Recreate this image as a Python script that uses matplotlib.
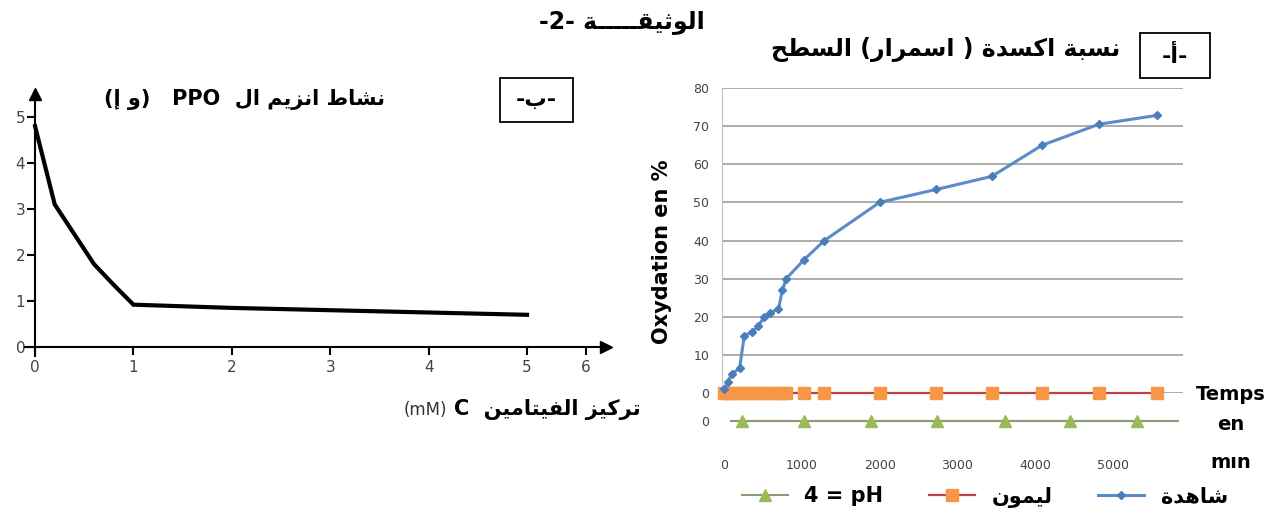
import re
import matplotlib
matplotlib.use("Agg")
from matplotlib import pyplot as plt
from matplotlib.patches import Rectangle

plt.rcParams["font.family"] = ["DejaVu Sans"]

# --- data ---
# left chart : PPO activity vs vitamin C concentration
conc_mM = [0, 0.2, 0.4, 0.6, 0.8, 1, 2, 3, 4, 5]
ppo_activity = [4.8, 3.1, 2.45, 1.8, 1.35, 0.92, 0.85, 0.8, 0.75, 0.7]
left_xticks = [0, 1, 2, 3, 4, 5, 5.6]
left_xlabels = ["0", "1", "2", "3", "4", "5", "6"]

# right chart : oxidation (%) vs time (min)
temoin_t = [0, 50, 100, 200, 260, 360, 440, 515, 590, 700, 750, 800,
            1030, 1290, 2000, 2730, 3440, 4090, 4820, 5560]
temoin_ox = [1, 3, 5, 6.5, 15, 16, 17.5, 20, 21, 22, 27, 30,
             35, 40, 50, 53.4, 56.8, 65, 70.5, 72.8]
citron_t = temoin_t
citron_ox = [0] * len(citron_t)
ph4_t = [232, 1031, 1892, 2742, 3608, 4448, 5309]
ph4_ox = [0] * len(ph4_t)

# --- minimal arabic shaping (presentation forms) + visual order ---
FORMS = {
    "\u0627": (0xFE8D, 2), "\u0623": (0xFE83, 2), "\u0625": (0xFE87, 2),
    "\u0628": (0xFE8F, 4), "\u0629": (0xFE93, 2), "\u062A": (0xFE95, 4),
    "\u062B": (0xFE99, 4), "\u062D": (0xFEA1, 4), "\u062F": (0xFEA9, 2),
    "\u0631": (0xFEAD, 2), "\u0632": (0xFEAF, 2), "\u0633": (0xFEB1, 4),
    "\u0634": (0xFEB5, 4), "\u0637": (0xFEC1, 4), "\u0641": (0xFED1, 4),
    "\u0642": (0xFED5, 4), "\u0643": (0xFED9, 4), "\u0644": (0xFEDD, 4),
    "\u0645": (0xFEE1, 4), "\u0646": (0xFEE5, 4), "\u0647": (0xFEE9, 4),
    "\u0648": (0xFEED, 2), "\u064A": (0xFEF1, 4),
}
TATWEEL = "\u0640"


def joins_next(c):
    return c == TATWEEL or (c in FORMS and FORMS[c][1] == 4)


def shape(s):
    out = []
    for i, c in enumerate(s):
        if c not in FORMS:
            out.append(c)
            continue
        base, n = FORMS[c]
        prev = s[i - 1] if i > 0 else ""
        nxt = s[i + 1] if i + 1 < len(s) else ""
        jp = joins_next(prev)
        jn = n == 4 and (nxt == TATWEEL or nxt in FORMS)
        if jp and jn:
            code = base + 3
        elif jp:
            code = base + 1
        elif jn:
            code = base + 2
        else:
            code = base
        out.append(chr(code))
    return "".join(out)


def ar(s):
    t = shape(s)[::-1]
    t = t.translate(str.maketrans("()", ")("))
    return re.sub(r"[A-Za-z0-9]+", lambda m: m.group(0)[::-1], t)


def fx(x):
    return x / 1280


def fy(y):
    return 1 - y / 524


fig = plt.figure(figsize=(12.8, 5.24), dpi=100)

# ---------------- left chart ----------------
axl = fig.add_axes([fx(25.2), fy(356.2), (605.7 - 25.2) / 1280, (356.2 - 94) / 524])
axl.set_xlim(-0.1, 5.8)
axl.set_ylim(-0.2, 5.5)
axl.plot(conc_mM, ppo_activity, color="black", lw=3, solid_joinstyle="miter")
for s in ["top", "right"]:
    axl.spines[s].set_visible(False)
axl.spines["left"].set_position(("data", 0))
axl.spines["bottom"].set_position(("data", 0))
axl.spines["left"].set_linewidth(1.5)
axl.spines["bottom"].set_linewidth(1.5)
axl.plot(0, 1, "^k", ms=9, transform=axl.get_xaxis_transform(), clip_on=False)
axl.plot(1, 0, ">k", ms=9, transform=axl.get_yaxis_transform(), clip_on=False)
axl.set_xticks(left_xticks)
axl.set_xticklabels(left_xlabels)
axl.set_yticks([0, 1, 2, 3, 4, 5])
axl.tick_params(axis="both", direction="out", length=6, width=1.5,
                labelsize=11, labelcolor="#444444")
axl.tick_params(axis="y", pad=1)

fig.text(fx(385), fy(100), "(إ و)   PPO  " + ar("نشاط انزيم ال"),
         ha="right", va="center", fontsize=15, fontweight="bold")
fig.add_artist(Rectangle((fx(500), fy(122)), 73 / 1280, 44 / 524,
                         transform=fig.transFigure, fill=False, lw=1.3, ec="black"))
fig.text(fx(536), fy(100), ar("-ب-"), ha="center", va="center",
         fontsize=16, fontweight="bold")
fig.text(fx(640), fy(410), "C  " + ar("تركيز الفيتامين"),
         ha="right", va="center", fontsize=15, fontweight="bold")
fig.text(fx(447), fy(410), "(mM)", ha="right", va="center", fontsize=12, color="#333333")

# ---------------- right chart ----------------
axr = fig.add_axes([fx(721.7), fy(393), (1183 - 721.7) / 1280, 305 / 524])
axr.set_xlim(-30, 5900)
axr.set_ylim(0, 80)
axr.set_yticks(range(0, 81, 10))
axr.grid(axis="y", color="#a6a6a6", lw=1.3)
axr.set_axisbelow(True)
for s in ["top", "right", "bottom"]:
    axr.spines[s].set_visible(False)
axr.spines["left"].set_color("#c0c0c0")
axr.tick_params(axis="y", length=0, labelsize=9, labelcolor="#444444", pad=9)
axr.tick_params(axis="x", length=0, labelbottom=False)

l_citron, = axr.plot(citron_t, citron_ox, color="#b5443f", lw=1.6, marker="s",
                     ms=8, mfc="#f79646", mec="#f79646", clip_on=False, zorder=3)
l_temoin, = axr.plot(temoin_t, temoin_ox, color="#5b8cc8", lw=2.2, marker="D",
                     ms=4, mfc="#4a7ebb", mec="#4a7ebb", clip_on=False, zorder=4)

axp = fig.add_axes([fx(721.7), fy(437), (1183 - 721.7) / 1280, 32 / 524])
axp.set_xlim(-30, 5900)
axp.set_ylim(-1, 1)
axp.hlines(0, 80, 5850, color="#8c9a78", lw=1.5)
l_ph, = axp.plot(ph4_t, ph4_ox, color="#8c9a78", lw=1.5, marker="^", ms=9,
                 mfc="#9bbb59", mec="#9bbb59")
axp.set_yticks([0])
axp.set_xticks(range(0, 5001, 1000))
for s in axp.spines.values():
    s.set_visible(False)
axp.tick_params(axis="both", length=0, labelsize=9, labelcolor="#444444")
axp.tick_params(axis="y", pad=9)
axp.tick_params(axis="x", pad=16)

fig.text(fx(662), fy(252), "Oxydation en %", rotation=90, ha="center", va="center",
         fontsize=15, fontweight="bold")
fig.text(fx(1231), fy(394), "Temps", ha="center", va="center", fontsize=14, fontweight="bold")
fig.text(fx(1231), fy(424), "en", ha="center", va="center", fontsize=14, fontweight="bold")
fig.text(fx(1231), fy(462), "mın", ha="center", va="center", fontsize=14, fontweight="bold")

fig.text(fx(1120), fy(50), ar("نسبة اكسدة ( اسمرار) السطح"), ha="right", va="center",
         fontsize=17, fontweight="bold")
fig.add_artist(Rectangle((fx(1140), fy(78)), 70 / 1280, 45 / 524,
                         transform=fig.transFigure, fill=False, lw=1.3, ec="black"))
fig.text(fx(1175), fy(56), ar("-أ-"), ha="center", va="center",
         fontsize=16, fontweight="bold")

fig.text(fx(705), fy(22), ar("الوثيقـــــة -2-"), ha="right", va="center",
         fontsize=17, fontweight="bold")

fig.legend(handles=[l_ph, l_citron, l_temoin],
           labels=["4 = pH", ar("ليمون"), ar("شاهدة")],
           loc="center", bbox_to_anchor=(fx(985), fy(497)), ncol=3, frameon=False,
           columnspacing=2.2, handlelength=2.2, handletextpad=0.8,
           prop=dict(weight="bold", size=15))

fig.savefig("out.png", dpi=100)
